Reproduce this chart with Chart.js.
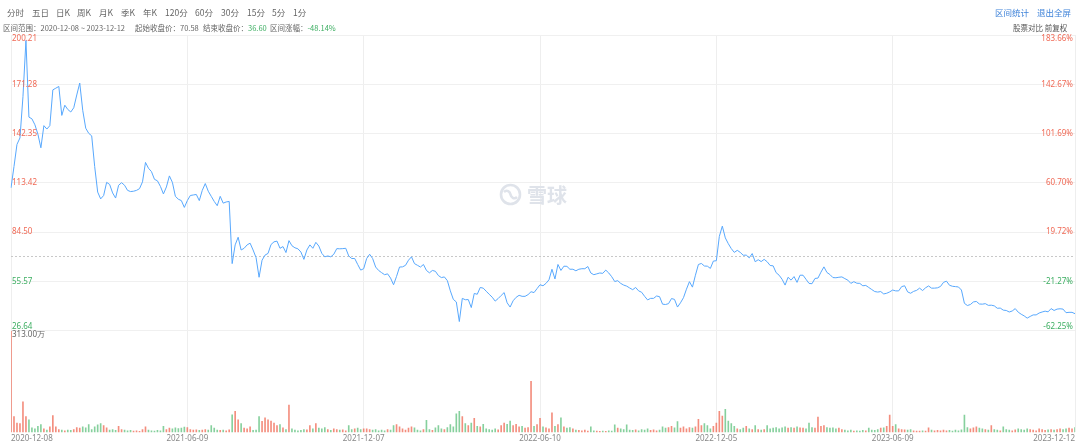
<!DOCTYPE html>
<html>
<head>
<meta charset="utf-8">
<script src="https://cdn.jsdelivr.net/npm/chart.js@4.4.0/dist/chart.umd.min.js"></script>
<style>
  body { margin: 0; background: #fff; font-family: "Noto Sans CJK SC", "Noto Sans", sans-serif; }
  #wrap { position: relative; width: 1080px; height: 446px; overflow: hidden; }
  #box { position: absolute; left: 0; top: 0; width: 1080px; height: 446px; }
  .t { position: absolute; white-space: nowrap; line-height: 1; }
  .tool { top: 8px; font-size: 8.5px; color: #666; }
  .info { top: 24px; font-size: 7.5px; color: #666; }
  .blue { top: 8px; font-size: 8.5px; color: #3f83d9; }
  .green { color: #3dae62; }
  #mark { position: absolute; left: 499px; top: 180px; display: flex; align-items: center; gap: 5px; color: #dfe3ea; font-size: 20px; font-weight: bold; }
</style>
</head>
<body>
<div id="wrap">
  <div id="box"><canvas id="chart"></canvas></div>

  <span class="t tool" style="left:7px">分时</span>
  <span class="t tool" style="left:32px">五日</span>
  <span class="t tool" style="left:56px">日K</span>
  <span class="t tool" style="left:77px">周K</span>
  <span class="t tool" style="left:99px">月K</span>
  <span class="t tool" style="left:121px">季K</span>
  <span class="t tool" style="left:143px">年K</span>
  <span class="t tool" style="left:165px">120分</span>
  <span class="t tool" style="left:195px">60分</span>
  <span class="t tool" style="left:221px">30分</span>
  <span class="t tool" style="left:247px">15分</span>
  <span class="t tool" style="left:272px">5分</span>
  <span class="t tool" style="left:293px">1分</span>

  <span class="t info" style="left:3px">区间范围：2020-12-08 ~ 2023-12-12</span>
  <span class="t info" style="left:135px">起始收盘价：70.58</span>
  <span class="t info" style="left:203px">结束收盘价：<span class="green">36.60</span></span>
  <span class="t info" style="left:270px">区间涨幅：<span class="green">-48.14%</span></span>

  <span class="t blue" style="left:995px">区间统计</span>
  <span class="t blue" style="left:1037px">退出全屏</span>
  <span class="t info" style="left:1013px;color:#555">股票对比 前复权</span>

  <div id="mark">
    <svg width="23" height="23" viewBox="0 0 23 23">
      <circle cx="11.5" cy="11.5" r="9.5" fill="none" stroke="#dfe3ea" stroke-width="2.6"/>
      <path d="M5 9 C8 6, 11 9, 11.5 11.5 S15 17, 18 14" fill="none" stroke="#dfe3ea" stroke-width="2.6"/>
    </svg>
    <span>雪球</span>
  </div>
</div>

<script>
const tickDates = ["2020-12-08", "2021-06-09", "2021-12-07", "2022-06-10", "2022-12-05", "2023-06-09", "2023-12-12"];
const tickIndex = [0, 59, 118, 177, 236, 295, 356];
const priceTicks = [200.21, 171.28, 142.35, 113.42, 84.50, 55.57, 26.644];
const startClose = 70.58;
const volumeMax = 313;

// 收盘价（前复权），约每两个交易日一个点
const close = [
  110.5, 123, 136, 139.8, 164, 197, 152, 151, 147.5, 142,
  134, 147, 145, 147, 168, 169, 170, 153, 159, 156.5,
  155, 157.5, 165, 172, 156, 145.5, 142.5, 141, 123, 108,
  104, 106, 113.7, 112.5, 107.5, 104.5, 112, 113.5, 112, 109,
  108.3, 108.5, 109, 110, 114, 125.4, 122, 120, 115.5, 114.6,
  111.3, 106.9, 111, 117.5, 113.7, 105.5, 103.8, 103, 99, 103,
  106, 106.3, 106.6, 103, 109, 113, 108.5, 105.5, 102.5, 100,
  105.5, 101.5, 102.2, 102.5, 66, 77, 81.5, 74, 75, 77,
  78, 74, 69.5, 58, 68, 71, 72, 77.2, 78.8, 79.2,
  75, 76, 72.5, 79.5, 76.5, 75.3, 74.7, 72.8, 68.5, 74,
  77, 75, 78.5, 76.3, 72, 70, 70.5, 70, 71.5, 74.8,
  74.7, 74.8, 75, 70.5, 69, 69, 65.5, 62.2, 63, 69,
  71.5, 69, 64, 62, 60.7, 59.5, 60, 57.5, 53.6, 58.5,
  64, 64.1, 65, 68, 70, 66, 65, 64, 65.5, 62,
  60.6, 62, 61.5, 59, 57.8, 58.2, 56, 50, 45, 43.5,
  32, 45.6, 44.8, 44.9, 40.2, 48.5, 48, 52, 51.6, 49.8,
  48, 46.3, 44, 45.5, 47.3, 49, 43, 40.5, 44.2, 46.2,
  47.4, 46.8, 46.8, 47.8, 49.5, 49, 51.3, 53.6, 53,
  54.4, 56.5, 62.7, 57, 65.5, 62, 64.5, 64.4, 62.7, 62.7,
  61.8, 62.7, 63, 63, 64.3, 60.5, 59.5, 60, 60.5, 60.3,
  62.2, 60.5, 58.3, 55.5, 56, 54.4, 53.4, 52.8, 51.7, 50.7,
  52, 50, 49.2, 46.8, 44.7, 45.6, 45.6, 47, 46.6, 42.2,
  42, 42.5, 45.5, 45, 40.5, 43, 46, 51, 55.4, 52.2,
  59.2, 65.5, 66.1, 64.6, 64.5, 63.2, 67.5, 67.7, 82, 88,
  81.1, 77.7, 74.8, 72.6, 73.8, 72.6, 70.9, 71, 69.4, 71.9,
  67.1, 68.3, 67.2, 68.5, 67.1, 64.9, 64.7, 60.7, 59.2, 56.8,
  53.4, 58, 56.3, 58.4, 55, 59.2, 59.2, 56.8, 54.4, 54.2,
  57.3, 57.5, 61, 64.1, 60.8, 59.6, 57.8, 57.7, 58, 58.2,
  57.2, 56.3, 54.4, 55.4, 54.5, 54.4, 53, 53.2, 52, 50.8,
  49.6, 49.3, 49.6, 48.2, 48.6, 49.4, 50.5, 50, 50, 52.5,
  53, 49.4, 48.6, 49.7, 50.3, 51.6, 50.2, 51.8, 52.9, 51.6,
  51.6, 51.8, 52.6, 55, 55.7, 53.3, 52.7, 52.5, 52.3, 50.5,
  42.7, 41.4, 42, 43.5, 43.8, 42.3, 42.2, 42.5, 41.5, 41.6,
  41.2, 39.8, 39.9, 38.7, 38.5, 37.6, 38.2, 39.6, 37.5, 36.3,
  35.3, 34, 35, 35.9, 35.9, 37, 37.6, 38.1, 37.7, 39.6,
  38.5, 39.3, 39.5, 39.3, 37.2, 37.4, 37.4, 36.6,
];

// 成交量（万）
const volume = [
  313, 50, 30, 28, 95, 50, 40, 15, 12, 20,
  25, 12, 8, 18, 53, 18, 10, 8, 6, 8,
  7, 10, 16, 14, 18, 15, 25, 10, 18, 24,
  28, 22, 15, 8, 10, 7, 20, 10, 8, 6,
  7, 5, 6, 4, 10, 18, 8, 6, 5, 7,
  6, 20, 10, 14, 12, 15, 13, 14, 17, 16,
  10, 8, 9, 7, 8, 10, 8, 22, 14, 8,
  7, 8, 6, 9, 55, 66, 40, 28, 14, 12,
  18, 7, 8, 50, 35, 46, 40, 36, 30, 22,
  25, 15, 10, 85, 12, 8, 6, 7, 10, 9,
  22, 12, 28, 14, 12, 16, 10, 7, 12, 10,
  8, 9, 6, 22, 10, 12, 14, 10, 12,
  12, 10, 8, 10, 6, 8, 6, 10, 8, 22,
  25, 18, 12, 8, 14, 18, 15, 8, 6, 10,
  38, 10, 7, 15, 22, 12, 10, 16, 25, 18,
  58, 66, 50, 28, 22, 30, 44, 20, 18, 26,
  12, 10, 8, 12, 9, 22, 30, 26, 36, 22,
  26, 18, 20, 14, 16, 158, 20, 25, 44, 18,
  15, 12, 61, 20, 25, 46, 18, 14, 16, 12,
  8, 7, 6, 8, 5, 18, 6, 5, 4, 5,
  4, 6, 5, 24, 14, 12, 10, 24, 8, 7,
  9, 6, 10, 8, 12, 7, 9, 6, 8, 18,
  14, 16, 20, 15, 34, 14, 18, 12, 16, 14,
  18, 41, 22, 28, 22, 12, 20, 30, 66, 51,
  72, 36, 28, 20, 12, 10, 14, 20, 12, 10,
  22, 10, 8, 10, 22, 12, 14, 16, 12, 15,
  18, 14, 16, 14, 18, 15, 14, 12, 30, 16,
  14, 48, 20, 22, 16, 14, 15, 12, 14, 10,
  8, 6, 8, 5, 6, 5, 7, 6, 14, 8,
  7, 10, 14, 15, 20, 54, 20, 25, 12, 10,
  9, 8, 10, 6, 5, 5, 6, 5, 15, 8,
  6, 7, 6, 8, 6, 7, 5, 8, 6, 9,
  54, 16, 12, 15, 18, 14, 12, 10, 8, 22,
  10, 8, 6, 18, 10, 8, 6, 9, 12, 10,
  8, 12, 10, 8, 6, 12, 10, 7, 9, 10,
  8, 10, 12, 10, 12, 14, 12, 16,
];

const RED = "#f06a56";
const GREEN = "#3dae62";
const FONT = '8px "Noto Sans", "DejaVu Sans", sans-serif';

const labels = close.map((_, i) => {
  const k = tickIndex.indexOf(i);
  return k >= 0 ? tickDates[k] : "";
});

const volColors = volume.map((_, i) =>
  i === 0 || close[i] >= close[i - 1] ? "rgba(240,112,92,0.8)" : "rgba(104,196,132,0.8)"
);

const overlay = {
  id: "overlay",
  beforeDatasetsDraw(chart) {
    const { ctx, chartArea } = chart;
    const y = Math.round(chart.scales.y.getPixelForValue(startClose)) + 0.5;
    ctx.save();
    ctx.strokeStyle = "#c8c8c8";
    ctx.lineWidth = 1;
    ctx.setLineDash([2, 2]);
    ctx.beginPath();
    ctx.moveTo(chartArea.left, y);
    ctx.lineTo(chartArea.right, y);
    ctx.stroke();
    ctx.restore();
  },
  afterDraw(chart) {
    const { ctx, chartArea } = chart;
    const ys = chart.scales.y;
    const yv = chart.scales.yv;
    ctx.save();
    ctx.font = FONT;
    ctx.textBaseline = "middle";
    priceTicks.forEach((v) => {
      let y = ys.getPixelForValue(v);
      y = Math.min(Math.max(y, ys.top + 4), ys.bottom - 4);
      ctx.fillStyle = v >= startClose ? RED : GREEN;
      ctx.textAlign = "left";
      ctx.fillText(v.toFixed(2), chartArea.left + 1, y);
      ctx.textAlign = "right";
      ctx.fillText(((v / startClose - 1) * 100).toFixed(2) + "%", chartArea.right - 2, y);
    });
    ctx.textAlign = "left";
    ctx.fillStyle = "#666";
    ctx.fillText(volumeMax.toFixed(2) + "万", chartArea.left + 1, yv.top + 4);
    ctx.restore();
  },
};

new Chart(document.getElementById("chart"), {
  data: {
    labels,
    datasets: [
      {
        type: "line",
        data: close,
        yAxisID: "y",
        borderColor: "#58a8fd",
        borderWidth: 1,
        pointRadius: 0,
        tension: 0,
      },
      {
        type: "bar",
        data: volume,
        yAxisID: "yv",
        backgroundColor: volColors,
        barPercentage: 0.55,
        categoryPercentage: 1,
      },
    ],
  },
  options: {
    responsive: true,
    maintainAspectRatio: false,
    animation: false,
    layout: { padding: { top: 35, left: 3, right: 5, bottom: 0 } },
    plugins: { legend: { display: false }, tooltip: { enabled: false } },
    scales: {
      x: {
        type: "category",
        offset: false,
        afterBuildTicks: (scale) => {
          scale.ticks = tickIndex.map((v) => ({ value: v }));
        },
        grid: { color: "#eeeeee", drawTicks: false, offset: false },
        border: { display: false },
        ticks: {
          autoSkip: false,
          maxRotation: 0,
          align: "inner",
          padding: 2,
          color: "#888",
          font: { size: 8, family: '"Noto Sans", sans-serif' },
        },
      },
      yv: {
        type: "linear",
        position: "left",
        stack: "k",
        stackWeight: 102.4,
        min: 0,
        max: volumeMax,
        grid: { display: false },
        border: { display: false },
        ticks: { display: false },
      },
      y: {
        type: "linear",
        position: "left",
        stack: "k",
        stackWeight: 297.6,
        min: 26.644,
        max: 200.21,
        afterBuildTicks: (scale) => {
          scale.ticks = priceTicks.map((v) => ({ value: v }));
        },
        grid: { color: "#f0f0f0", drawTicks: false },
        border: { display: false },
        ticks: { display: false },
      },
    },
  },
  plugins: [overlay],
});
</script>
</body>
</html>
